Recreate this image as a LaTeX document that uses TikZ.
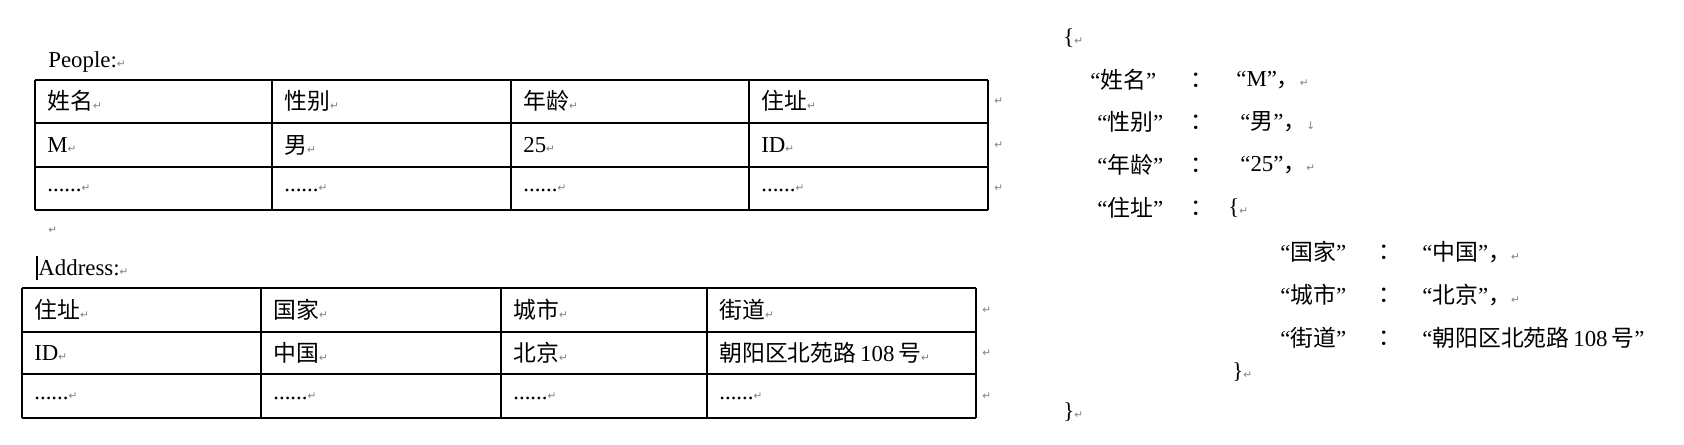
\documentclass[tikz,border=0pt]{standalone}
\usepackage{fontspec}
\setmainfont{Liberation Serif}
\newfontfamily\cjk{Noto Sans CJK SC}
\newfontfamily\markfont{DejaVu Sans}
\newcommand{\parmark}{{\markfont\fontsize{6}{6}\selectfont\color{gray}↵}}

\tikzset{
	tbl/.style={line width=1pt},
	cell/.style={anchor=west, inner sep=0pt, font=\fontsize{13}{15}\selectfont},
	txt/.style={anchor=west, inner sep=0pt, font=\fontsize{13}{15}\selectfont}
}

\begin{document}
\begin{tikzpicture}[x=0.02cm,y=-0.02cm]
	\useasboundingbox (0,0) rectangle (1684,445);
	% People
	\node[txt] (peoplettl) at (48,62) {People:\parmark};
	\foreach \y in {80,123,167,210} \draw[tbl] (35,\y)--(988,\y);
	\foreach \x in {35,272,511,749,988} \draw[tbl] (\x,80)--(\x,210);
	\node[cell] (p11) at (47,101) {\cjk 姓名\parmark};
	\node[cell] (p12) at (284,101) {\cjk 性别\parmark};
	\node[cell] (p13) at (523,101) {\cjk 年龄\parmark};
	\node[cell] (p14) at (761,101) {\cjk 住址\parmark};
	\node[cell] (p21) at (47,145) {M\parmark};
	\node[cell] (p22) at (284,145) {\cjk 男\parmark};
	\node[cell] (p23) at (523,145) {25\parmark};
	\node[cell] (p24) at (761,145) {ID\parmark};
	\node[cell] (p31) at (47,188) {......\parmark};
	\node[cell] (p32) at (284,188) {......\parmark};
	\node[cell] (p33) at (523,188) {......\parmark};
	\node[cell] (p34) at (761,188) {......\parmark};
	\foreach \y in {101,145,188} \node[cell] at (994,\y) {\parmark};
	\node[cell] (gap) at (48,230) {\parmark};
	% Address
	\node[txt] (addressttl) at (36,268) {\rule[-3pt]{1.2pt}{14pt}Address:\parmark};
	\foreach \y in {288,332,374,418} \draw[tbl] (22,\y)--(976,\y);
	\foreach \x in {22,261,501,707,976} \draw[tbl] (\x,288)--(\x,418);
	\node[cell] (a11) at (34,310) {\cjk 住址\parmark};
	\node[cell] (a12) at (273,310) {\cjk 国家\parmark};
	\node[cell] (a13) at (513,310) {\cjk 城市\parmark};
	\node[cell] (a14) at (719,310) {\cjk 街道\parmark};
	\node[cell] (a21) at (34,353) {ID\parmark};
	\node[cell] (a22) at (273,353) {\cjk 中国\parmark};
	\node[cell] (a23) at (513,353) {\cjk 北京\parmark};
	\node[cell] (a24) at (719,353) {{\cjk 朝阳区北苑路}\,108\,{\cjk 号}\parmark};
	\node[cell] (a31) at (34,396) {......\parmark};
	\node[cell] (a32) at (273,396) {......\parmark};
	\node[cell] (a33) at (513,396) {......\parmark};
	\node[cell] (a34) at (719,396) {......\parmark};
	\foreach \y in {310,353,396} \node[cell] at (982,\y) {\parmark};
	% JSON
	\node[txt] (open) at (1063,38) {\{\parmark};
	\node[txt] (k1) at (1090,80) {“{\cjk 姓名}”};
	\node[txt] (k2) at (1097,122) {“{\cjk 性别}”};
	\node[txt] (k3) at (1097,165) {“{\cjk 年龄}”};
	\node[txt] (k4) at (1097,208) {“{\cjk 住址}”};
	\foreach \y in {80,122,165,208} \node[txt] at (1190,\y) {\cjk ：};
	\node[txt] (v1) at (1236,80) {“M”{\cjk ，}\parmark};
	\node[txt] (v2) at (1240,122) {“{\cjk 男}”{\cjk ，}{\markfont\fontsize{6}{6}\selectfont\color{gray}↓}};
	\node[txt] (v3) at (1240,165) {“25”{\cjk ，}\parmark};
	\node[txt] (v4) at (1228,208) {\{\parmark};
	\node[txt] (n1) at (1280,252) {“{\cjk 国家}”};
	\node[txt] (n2) at (1280,295) {“{\cjk 城市}”};
	\node[txt] (n3) at (1280,338) {“{\cjk 街道}”};
	\foreach \y in {252,295,338} \node[txt] at (1378,\y) {\cjk ：};
	\node[txt] (w1) at (1422,252) {“{\cjk 中国}”{\cjk ，}\parmark};
	\node[txt] (w2) at (1422,295) {“{\cjk 北京}”{\cjk ，}\parmark};
	\node[txt] (w3) at (1422,338) {“{\cjk 朝阳区北苑路}\,108\,{\cjk 号}”};
	\node[txt] (close1) at (1232,372) {\}\parmark};
	\node[txt] (close) at (1063,412) {\}\parmark};
\end{tikzpicture}
\end{document}
